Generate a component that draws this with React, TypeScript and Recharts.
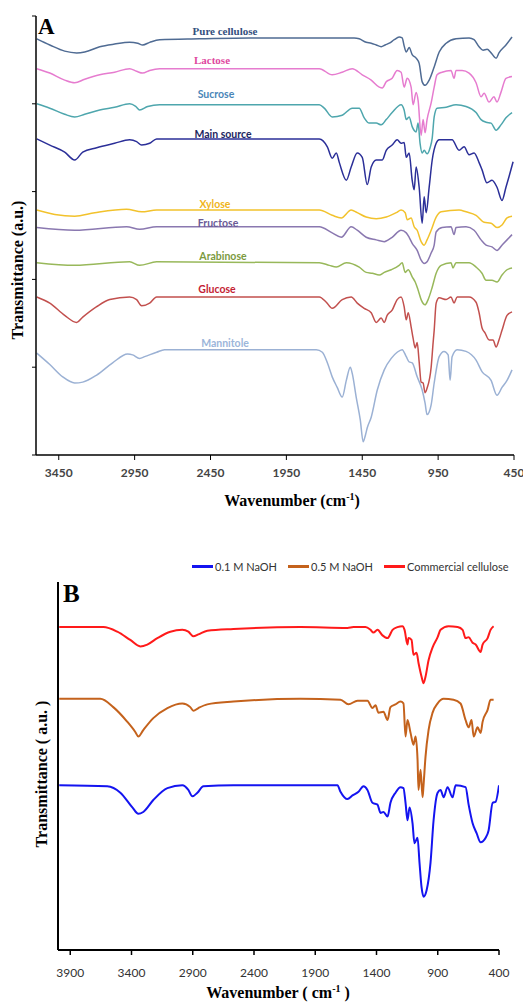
import React from 'react';
import { LineChart, Line, XAxis, YAxis } from 'recharts';

// ---- Panel A: FTIR spectra (wavenumber cm-1, transmittance a.u.)
const ticksA = [3450, 2950, 2450, 1950, 1450, 950, 450];
const ticksB = [3900, 3400, 2900, 2400, 1900, 1400, 900, 400];

const pureCellulose = [[3595,4.74],[3509,4.67],[3411,4.60],[3332,4.58],[3279,4.59],[3180,4.65],[3082,4.68],[2983,4.70],[2930,4.69],[2897,4.67],[2851,4.70],[2785,4.73],[2522,4.74],[2193,4.75],[1864,4.75],[1503,4.75],[1470,4.74],[1424,4.70],[1391,4.69],[1358,4.67],[1325,4.65],[1299,4.67],[1272,4.69],[1239,4.73],[1207,4.76],[1187,4.75],[1174,4.66],[1160,4.59],[1141,4.64],[1121,4.56],[1095,4.52],[1075,4.46],[1055,4.25],[1036,4.21],[1009,4.27],[976,4.42],[943,4.59],[897,4.69],[832,4.74],[746,4.75],[713,4.73],[680,4.65],[654,4.61],[627,4.62],[601,4.58],[568,4.52],[549,4.58],[503,4.67],[463,4.76]];

const lactose = [[3595,4.40],[3509,4.35],[3411,4.27],[3345,4.24],[3279,4.28],[3180,4.33],[3082,4.36],[2983,4.40],[2937,4.37],[2897,4.35],[2851,4.38],[2785,4.40],[2193,4.40],[1733,4.40],[1648,4.33],[1582,4.36],[1516,4.40],[1450,4.33],[1391,4.27],[1338,4.19],[1318,4.18],[1292,4.25],[1253,4.29],[1220,4.38],[1194,4.36],[1174,4.19],[1154,4.29],[1128,4.19],[1115,3.99],[1095,4.13],[1082,4.04],[1062,3.64],[1049,3.82],[1036,3.67],[1023,3.82],[996,4.01],[976,4.19],[957,4.33],[924,4.36],[865,4.38],[845,4.29],[832,4.38],[792,4.38],[746,4.35],[700,4.24],[667,4.08],[647,4.12],[614,4.02],[582,4.08],[562,4.02],[536,4.13],[503,4.29],[463,4.31]];

const sucrose = [[3595,4.00],[3509,3.95],[3411,3.88],[3345,3.85],[3279,3.88],[3180,3.93],[3082,3.96],[2983,4.00],[2943,3.97],[2917,3.93],[2864,3.97],[2785,3.99],[1733,3.99],[1700,3.95],[1648,3.85],[1582,3.87],[1516,3.95],[1470,3.95],[1437,3.84],[1404,3.78],[1358,3.78],[1325,3.76],[1292,3.82],[1253,3.90],[1194,3.99],[1174,3.93],[1160,3.82],[1141,3.85],[1121,3.74],[1095,3.68],[1082,3.78],[1069,3.55],[1055,3.44],[1042,3.47],[1023,3.43],[1003,3.50],[989,3.61],[976,3.85],[957,3.95],[897,3.96],[832,3.99],[766,3.97],[700,3.90],[667,3.82],[634,3.79],[601,3.78],[568,3.70],[536,3.76],[503,3.84],[463,3.90]];

const mainSource = [[3595,3.60],[3509,3.53],[3411,3.45],[3345,3.36],[3292,3.45],[3200,3.50],[3082,3.55],[2983,3.59],[2937,3.57],[2904,3.53],[2851,3.55],[2805,3.60],[1733,3.60],[1680,3.51],[1648,3.38],[1621,3.44],[1601,3.33],[1555,3.13],[1523,3.28],[1483,3.44],[1450,3.39],[1417,3.08],[1391,3.28],[1358,3.36],[1318,3.36],[1292,3.47],[1253,3.53],[1220,3.59],[1194,3.55],[1174,3.56],[1160,3.39],[1141,3.44],[1121,3.13],[1108,3.02],[1095,3.28],[1075,3.05],[1055,2.64],[1042,2.94],[1029,2.76],[1009,3.05],[989,3.36],[963,3.55],[943,3.59],[858,3.59],[812,3.47],[779,3.51],[746,3.42],[713,3.44],[680,3.33],[661,3.25],[628,3.10],[595,3.13],[562,3.05],[529,2.90],[503,3.05],[483,3.17],[456,3.34]];

const xylose = [[3595,2.79],[3476,2.74],[3345,2.72],[3213,2.76],[3003,2.80],[2904,2.77],[2805,2.79],[1733,2.79],[1648,2.73],[1588,2.70],[1523,2.79],[1483,2.76],[1424,2.71],[1358,2.69],[1292,2.71],[1226,2.76],[1194,2.79],[1167,2.76],[1154,2.68],[1128,2.70],[1108,2.60],[1088,2.56],[1062,2.43],[1042,2.39],[1023,2.45],[996,2.56],[963,2.71],[930,2.77],[812,2.79],[766,2.77],[700,2.73],[647,2.65],[601,2.64],[562,2.59],[529,2.62],[496,2.70],[463,2.72]];

const fructose = [[3595,2.59],[3345,2.56],[3003,2.60],[2917,2.57],[2805,2.60],[1733,2.60],[1648,2.53],[1588,2.48],[1523,2.60],[1483,2.56],[1424,2.48],[1358,2.45],[1305,2.43],[1253,2.48],[1194,2.56],[1160,2.53],[1141,2.48],[1121,2.41],[1088,2.33],[1062,2.22],[1042,2.18],[1023,2.20],[996,2.30],[976,2.39],[963,2.54],[924,2.59],[865,2.60],[845,2.51],[832,2.59],[766,2.60],[713,2.56],[667,2.45],[634,2.39],[595,2.37],[562,2.33],[529,2.39],[496,2.45],[463,2.51]];

const arabinose = [[3595,2.19],[3345,2.16],[2983,2.20],[2917,2.16],[2805,2.20],[1733,2.19],[1667,2.16],[1621,2.14],[1555,2.19],[1470,2.14],[1424,2.08],[1384,2.07],[1338,2.05],[1305,2.08],[1259,2.11],[1207,2.16],[1187,2.19],[1167,2.08],[1147,2.11],[1121,2.03],[1101,1.97],[1082,1.88],[1062,1.77],[1036,1.71],[1016,1.77],[989,1.91],[963,2.07],[930,2.16],[865,2.19],[852,2.13],[832,2.19],[746,2.19],[700,2.14],[661,2.07],[634,1.99],[595,1.99],[562,1.97],[529,2.05],[496,2.11],[463,2.13]];

const glucose = [[3595,1.80],[3509,1.73],[3411,1.59],[3332,1.51],[3292,1.57],[3200,1.69],[3114,1.77],[2983,1.80],[2937,1.77],[2904,1.70],[2851,1.73],[2805,1.80],[1733,1.80],[1687,1.74],[1648,1.67],[1582,1.77],[1523,1.80],[1483,1.73],[1437,1.67],[1391,1.62],[1358,1.51],[1325,1.56],[1305,1.51],[1286,1.59],[1253,1.65],[1220,1.77],[1194,1.80],[1174,1.69],[1160,1.54],[1147,1.62],[1128,1.46],[1115,1.33],[1101,1.22],[1088,1.28],[1075,1.06],[1062,0.83],[1049,0.82],[1036,0.71],[1023,0.76],[996,1.00],[983,1.28],[976,1.42],[963,1.73],[943,1.79],[897,1.77],[865,1.80],[845,1.73],[825,1.80],[746,1.80],[700,1.74],[680,1.62],[661,1.45],[641,1.39],[614,1.31],[588,1.31],[568,1.23],[549,1.31],[529,1.42],[496,1.59],[463,1.63]];

const mannitole = [[3595,1.16],[3509,1.03],[3424,0.89],[3345,0.82],[3292,0.83],[3200,0.91],[3095,1.05],[2996,1.15],[2963,1.14],[2917,1.10],[2884,1.12],[2805,1.17],[2753,1.20],[1753,1.20],[1713,1.17],[1680,1.05],[1648,0.89],[1615,0.77],[1582,0.66],[1555,0.85],[1529,1.00],[1516,0.93],[1490,0.66],[1463,0.40],[1444,0.15],[1430,0.22],[1417,0.31],[1391,0.43],[1351,0.74],[1305,0.97],[1259,1.10],[1220,1.17],[1187,1.20],[1160,1.12],[1141,1.06],[1121,1.05],[1088,0.89],[1055,0.74],[1036,0.59],[1023,0.46],[1009,0.49],[996,0.57],[976,0.82],[943,1.12],[911,1.18],[884,1.14],[871,0.85],[858,1.12],[825,1.20],[766,1.18],[700,1.08],[661,0.95],[601,0.85],[562,0.68],[529,0.77],[496,0.85],[463,0.97]];

// ---- Panel B
const naoh01 = [[3990,1.79],[3598,1.78],[3491,1.71],[3393,1.55],[3344,1.48],[3304,1.50],[3222,1.63],[3107,1.76],[2985,1.79],[2936,1.74],[2903,1.67],[2862,1.71],[2813,1.78],[2568,1.79],[1719,1.79],[1694,1.72],[1637,1.64],[1596,1.68],[1547,1.72],[1506,1.78],[1474,1.74],[1433,1.60],[1392,1.58],[1367,1.49],[1343,1.50],[1310,1.45],[1286,1.60],[1245,1.71],[1204,1.77],[1180,1.76],[1163,1.60],[1147,1.41],[1130,1.55],[1106,1.38],[1090,1.16],[1065,1.22],[1049,0.95],[1032,0.68],[1016,0.58],[991,0.65],[959,0.95],[934,1.41],[901,1.71],[877,1.74],[852,1.66],[820,1.77],[779,1.66],[754,1.79],[673,1.77],[648,1.58],[616,1.38],[583,1.27],[550,1.17],[509,1.22],[485,1.30],[452,1.60],[428,1.61],[400,1.79]];

const naoh05 = [[3990,2.73],[3655,2.73],[3549,2.64],[3434,2.48],[3369,2.37],[3344,2.32],[3304,2.39],[3222,2.52],[3107,2.63],[2985,2.68],[2920,2.64],[2895,2.60],[2854,2.63],[2781,2.67],[2568,2.70],[2021,2.73],[1694,2.72],[1629,2.67],[1555,2.71],[1474,2.71],[1433,2.63],[1408,2.66],[1384,2.58],[1343,2.59],[1310,2.50],[1286,2.64],[1245,2.67],[1204,2.70],[1180,2.68],[1163,2.32],[1147,2.50],[1122,2.36],[1098,2.23],[1081,2.32],[1065,2.07],[1057,1.74],[1040,1.96],[1024,1.66],[1016,1.79],[1000,2.10],[975,2.39],[942,2.58],[901,2.68],[852,2.73],[771,2.72],[714,2.68],[673,2.50],[648,2.42],[624,2.50],[607,2.32],[575,2.42],[550,2.36],[534,2.48],[493,2.61],[469,2.72],[444,2.72]];

const commercial = [[3990,3.51],[3630,3.51],[3516,3.46],[3410,3.37],[3328,3.30],[3271,3.32],[3189,3.39],[3083,3.46],[2985,3.48],[2936,3.46],[2895,3.41],[2854,3.43],[2781,3.47],[2568,3.49],[2021,3.51],[1637,3.50],[1588,3.51],[1490,3.51],[1449,3.48],[1425,3.45],[1392,3.48],[1351,3.42],[1310,3.39],[1269,3.48],[1229,3.51],[1188,3.52],[1171,3.48],[1147,3.32],[1139,3.39],[1114,3.37],[1098,3.21],[1073,3.23],[1057,3.12],[1032,2.97],[1016,2.90],[1000,2.97],[975,3.15],[942,3.29],[901,3.40],[877,3.48],[812,3.52],[738,3.51],[697,3.48],[673,3.39],[648,3.40],[616,3.34],[591,3.32],[550,3.24],[534,3.32],[493,3.39],[469,3.48],[444,3.52]];

const toPts = (arr: number[][]) => arr.map(([x, y]) => ({ x, y }));

const seriesA = [
  { name: 'Pure cellulose', data: pureCellulose, color: '#4f6b93', label: '#34507e', lx: 225, ly: 31, serif: true },
  { name: 'Lactose', data: lactose, color: '#e67ccf', label: '#e0489f', lx: 212, ly: 60, serif: true },
  { name: 'Sucrose', data: sucrose, color: '#4ea6ad', label: '#4a86b8', lx: 216, ly: 94, serif: false },
  { name: 'Main source', data: mainSource, color: '#2b2f98', label: '#1c2660', lx: 223, ly: 134, serif: false },
  { name: 'Xylose', data: xylose, color: '#f2c22c', label: '#efb51c', lx: 215, ly: 204, serif: false },
  { name: 'Fructose', data: fructose, color: '#8a78b0', label: '#6a5a96', lx: 218, ly: 223, serif: false },
  { name: 'Arabinose', data: arabinose, color: '#98b85a', label: '#7b9a3e', lx: 223, ly: 256, serif: false },
  { name: 'Glucose', data: glucose, color: '#c2504e', label: '#c41e34', lx: 217, ly: 289, serif: false },
  { name: 'Mannitole', data: mannitole, color: '#9bb1d4', label: '#9cb6da', lx: 225, ly: 343, serif: false },
];

const seriesB = [
  { name: '0.1 M NaOH', data: naoh01, color: '#1414f0' },
  { name: '0.5 M NaOH', data: naoh05, color: '#c4621c' },
  { name: 'Commercial cellulose', data: commercial, color: '#ff1a1a' },
];

const serif = '"Liberation Serif", "Times New Roman", serif';
const sans = 'Lato, "Open Sans", sans-serif';

const abs = (left: number, top: number): React.CSSProperties => ({ position: 'absolute', left, top });

export default function App() {
  return (
    <div style={{ position: 'absolute', left: 0, top: 0, width: 523, height: 1005, background: '#fff', overflow: 'hidden' }}>
      {/* Panel A */}
      <div style={abs(0, 0)}>
        <LineChart width={523} height={500} margin={{ top: 16, right: 9, left: 0, bottom: 20 }}>
          <XAxis
            type="number"
            dataKey="x"
            domain={[450, 3600]}
            reversed
            allowDataOverflow
            ticks={ticksA}
            height={25}
            tickSize={5}
            tickMargin={8}
            axisLine={{ stroke: '#000', strokeWidth: 1.5 }}
            tickLine={{ stroke: '#000' }}
            tick={{ fontSize: 12, fontWeight: 700, fill: '#444', fontFamily: sans }}
          />
          <YAxis
            type="number"
            domain={[0, 5]}
            ticks={[0, 1, 2, 3, 4, 5]}
            width={36}
            tickSize={4}
            tickFormatter={() => ''}
            axisLine={{ stroke: '#000', strokeWidth: 1.5 }}
            tickLine={{ stroke: '#000' }}
          />
          {seriesA.map((s) => (
            <Line
              key={s.name}
              data={toPts(s.data)}
              dataKey="y"
              name={s.name}
              type="monotone"
              stroke={s.color}
              strokeWidth={1.5}
              dot={false}
              isAnimationActive={false}
            />
          ))}
        </LineChart>
      </div>
      <div style={{ ...abs(38, 14), fontFamily: serif, fontWeight: 700, fontSize: 23, lineHeight: '26px' }}>A</div>
      {seriesA.map((s) => (
        <div
          key={s.name}
          style={{
            position: 'absolute',
            left: s.lx - 60,
            top: s.ly - 8,
            width: 120,
            textAlign: 'center',
            fontFamily: s.serif ? serif : sans,
            fontWeight: 700,
            fontSize: s.serif ? 11 : 10.5,
            lineHeight: '16px',
            color: s.label,
          }}
        >
          {s.name}
        </div>
      ))}
      <div
        style={{
          position: 'absolute',
          left: 18 - 100,
          top: 270 - 10,
          width: 200,
          textAlign: 'center',
          transform: 'rotate(-90deg)',
          fontFamily: serif,
          fontWeight: 700,
          fontSize: 16,
          lineHeight: '20px',
        }}
      >
        Transmittance (a.u.)
      </div>
      <div style={{ position: 'absolute', left: 192, top: 487, width: 200, textAlign: 'center', fontFamily: serif, fontWeight: 700, fontSize: 16, lineHeight: '20px' }}>
        Wavenumber (cm<sup style={{ fontSize: 10 }}>-1</sup>)
      </div>

      {/* Panel B */}
      <div style={abs(0, 540)}>
        <LineChart width={523} height={465} margin={{ top: 42, right: 24, left: 0, bottom: 25 }}>
          <XAxis
            type="number"
            dataKey="x"
            domain={[400, 4000]}
            reversed
            allowDataOverflow
            ticks={ticksB}
            height={30}
            tickSize={5}
            tickMargin={13}
            axisLine={{ stroke: '#000', strokeWidth: 2 }}
            tickLine={{ stroke: '#000', strokeWidth: 1.5 }}
            tick={{ fontSize: 12, fill: '#333', fontFamily: sans }}
          />
          <YAxis
            type="number"
            domain={[0, 4]}
            width={58}
            tick={false}
            tickLine={false}
            axisLine={{ stroke: '#000', strokeWidth: 2 }}
          />
          {seriesB.map((s) => (
            <Line
              key={s.name}
              data={toPts(s.data)}
              dataKey="y"
              name={s.name}
              type="monotone"
              stroke={s.color}
              strokeWidth={2}
              dot={false}
              isAnimationActive={false}
            />
          ))}
        </LineChart>
      </div>
      <div style={{ ...abs(192, 560), display: 'flex', alignItems: 'center', fontFamily: sans, fontSize: 11, color: '#333' }}>
        {seriesB.map((s) => (
          <div key={s.name} style={{ display: 'flex', alignItems: 'center', marginRight: 11 }}>
            <span style={{ display: 'inline-block', width: 21, height: 2.5, background: s.color, marginRight: 2 }} />
            <span>{s.name}</span>
          </div>
        ))}
      </div>
      <div style={{ ...abs(63, 580), fontFamily: serif, fontWeight: 700, fontSize: 25, lineHeight: '28px' }}>B</div>
      <div
        style={{
          position: 'absolute',
          left: 42 - 110,
          top: 774 - 10,
          width: 220,
          textAlign: 'center',
          transform: 'rotate(-90deg)',
          fontFamily: serif,
          fontWeight: 700,
          fontSize: 16,
          lineHeight: '20px',
        }}
      >
        Transmittance ( a.u. )
      </div>
      <div style={{ position: 'absolute', left: 178, top: 983, width: 200, textAlign: 'center', fontFamily: serif, fontWeight: 700, fontSize: 16, lineHeight: '20px' }}>
        Wavenumber ( cm<sup style={{ fontSize: 10, lineHeight: 0 }}>-1</sup> )
      </div>
    </div>
  );
}
